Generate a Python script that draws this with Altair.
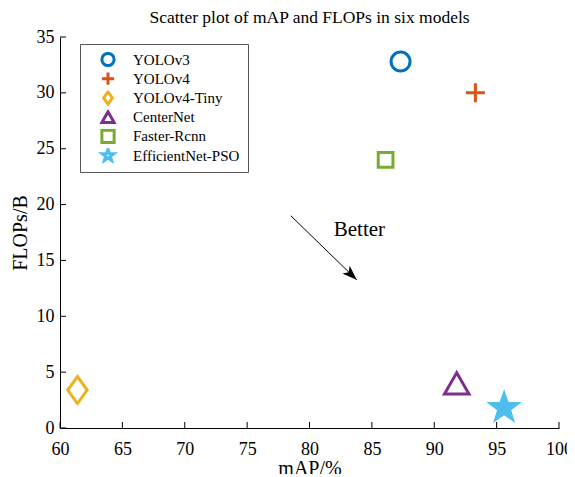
import altair as alt
import pandas as pd

models = ["YOLOv3", "YOLOv4", "YOLOv4-Tiny", "CenterNet", "Faster-Rcnn", "EfficientNet-PSO"]
mAP = [87.3, 93.3, 61.4, 91.8, 86.1, 95.6]
flops = [32.8, 30.0, 3.4, 4.0, 24.0, 1.8]
colors = ["#0072BD", "#D95319", "#EDB120", "#7E2F8E", "#77AC30", "#4DBEEE"]
fills = ["transparent", "transparent", "transparent", "transparent", "transparent", "#4DBEEE"]
shapes = ["circle", "M-1,0H1M0,-1V1", "M0,-1L0.72,0L0,1L-0.72,0Z", "triangle-up", "square",
          "M0,-1L0.235,-0.324L0.951,-0.309L0.38,0.124L0.588,0.809L0,0.4L-0.588,0.809L-0.38,0.124L-0.951,-0.309L-0.235,-0.324Z"]
sizes = [360, 361, 729, 600, 216, 808]

x_ticks = [60, 65, 70, 75, 80, 85, 90, 95, 100]
y_ticks = [0, 5, 10, 15, 20, 25, 30, 35]

arrow_x = [78.5, 83.8]
arrow_y = [19.0, 13.25]
better_x, better_y, better_text = 84.0, 17.7, "Better"

W, H = 499, 391
FONT = "Liberation Serif"

df = pd.DataFrame({"model": models, "mAP": mAP, "flops": flops, "sz": sizes, "fc": fills})

xs = alt.Scale(domain=[60, 100], nice=False, zero=False)
ys = alt.Scale(domain=[0, 35], nice=False, zero=False)

leg = alt.Legend(orient="none", legendX=20, legendY=7, title=None,
                 labelFont=FONT, labelFontSize=15, labelColor="black",
                 strokeColor="#555", fillColor="white", padding=8,
                 symbolSize=150, symbolStrokeWidth=3, symbolFillColor="white",
                 clipHeight=15, rowPadding=3.2,
                 symbolOffset=12, labelOffset=17, cornerRadius=0)

pts = alt.Chart(df).mark_point(strokeWidth=3, opacity=1).encode(
    x=alt.X("mAP:Q", scale=xs, title="mAP/%",
            axis=alt.Axis(values=x_ticks, ticks=False, grid=False, labelFlush=False)),
    y=alt.Y("flops:Q", scale=ys, title="FLOPs/B",
            axis=alt.Axis(values=y_ticks, ticks=False, grid=False, labelFlush=False)),
    color=alt.Color("model:N", scale=alt.Scale(domain=models, range=colors), legend=leg),
    shape=alt.Shape("model:N", scale=alt.Scale(domain=models, range=shapes), legend=leg),
    size=alt.Size("sz:Q", scale=None),
    fill=alt.Fill("fc:N", scale=None),
)

xt = alt.Chart(pd.DataFrame({"xv": x_ticks})).mark_tick(
    orient="vertical", size=6, thickness=1, color="black", opacity=1, yOffset=-3
).encode(x=alt.X("xv:Q", scale=xs), y=alt.Y(datum=0, scale=ys))
yt = alt.Chart(pd.DataFrame({"yv": y_ticks})).mark_tick(
    orient="horizontal", size=6, thickness=1, color="black", opacity=1, xOffset=3
).encode(y=alt.Y("yv:Q", scale=ys), x=alt.X(datum=60, scale=xs))

arr_df = pd.DataFrame({"x": [arrow_x[0]], "y": [arrow_y[0]], "x2": [arrow_x[1]], "y2": [arrow_y[1]]})
arrow_line = alt.Chart(arr_df).mark_rule(color="black", strokeWidth=1).encode(
    x=alt.X("x:Q", scale=xs), y=alt.Y("y:Q", scale=ys), x2="x2:Q", y2="y2:Q")
head_df = pd.DataFrame({"x": [arrow_x[1]], "y": [arrow_y[1]]})
arrow_head = alt.Chart(head_df).mark_point(
    shape="M0,0L-2,-0.7L-1.5,0L-2,0.7Z", filled=True, color="black", size=225, angle=43.6, opacity=1
).encode(x=alt.X("x:Q", scale=xs), y=alt.Y("y:Q", scale=ys))

txt = alt.Chart(pd.DataFrame({"x": [better_x], "y": [better_y], "t": [better_text]})).mark_text(
    font=FONT, fontSize=21, align="center", baseline="middle", color="black"
).encode(x=alt.X("x:Q", scale=xs), y=alt.Y("y:Q", scale=ys), text="t:N")

chart = alt.layer(pts, xt, yt, arrow_line, arrow_head, txt).properties(
    width=W, height=H,
    title=alt.Title("Scatter plot of mAP and FLOPs in six models", font=FONT, fontSize=17.5,
                    fontWeight="normal", color="black", offset=2),
    autosize=alt.AutoSizeParams(type="none"),
    padding={"left": 52, "top": 29, "right": 8, "bottom": 46},
).configure_view(stroke=None).configure_axis(
    labelFont=FONT, titleFont=FONT, labelFontSize=18, titleFontSize=20,
    titleFontWeight="normal", labelColor="black", titleColor="black",
    domainColor="black", domainWidth=1,
).configure_axisX(labelPadding=12, titlePadding=0).configure_axisY(labelPadding=6, titlePadding=6)

chart.save("out.html", embed_options={"renderer": "svg", "actions": False})
